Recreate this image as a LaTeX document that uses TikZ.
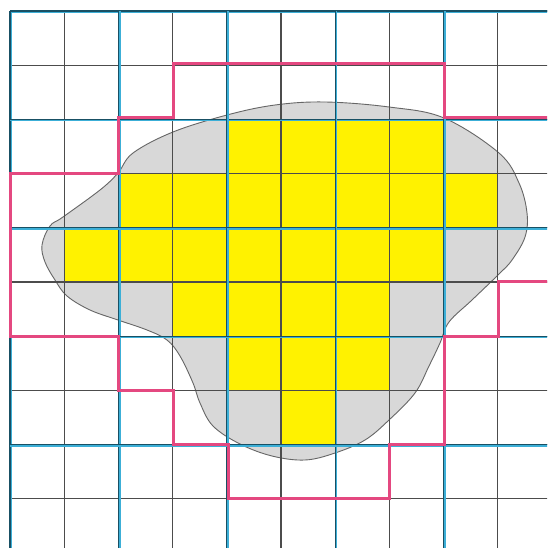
\documentclass[tikz,border=0pt]{standalone}
\definecolor{halo}{RGB}{60,175,215}
\definecolor{core}{RGB}{25,80,100}
\definecolor{pinkc}{RGB}{228,72,128}
\definecolor{blobc}{RGB}{216,216,216}
\begin{document}
\begin{tikzpicture}[x=1pt,y=-1pt,
  thingrid/.style={draw=black!70, line width=1.1pt},
  bluehalo/.style={draw=halo, line width=2.6pt},
  bluecore/.style={draw=core, line width=1.1pt},
  cellfill/.style={fill=yellow},
  blob/.style={fill=blobc, draw=black!60, line width=0.9pt},
  pinkline/.style={draw=pinkc, line width=3pt, line join=miter}]
\useasboundingbox (0,0) rectangle (547,548);
\fill[white] (0,0) rectangle (547,548);
\clip (0,0) rectangle (547,548);
% blob
\draw[blob] plot[smooth cycle, tension=0.6] coordinates {
 (42,245) (50,226) (63,217) (100,190) (118,173) (133,153) (173,132)
 (227,115) (275,105) (325,102) (389,107) (444,118) (499,153) (519,183)
 (527,213) (525,237) (512,260) (499,274) (472,300) (449,322) (440,343)
 (429,366) (415,393) (389,420) (365,440) (335,453) (305,460) (272,456)
 (240,444) (213,426) (200,403) (193,383) (180,356) (167,340) (147,330)
 (118,320) (90,310) (67,296) (55,280) (45,262)};
% yellow cells
\def\cs{54.2}
\foreach \r/\a/\b in {2/4/7, 3/2/8, 4/1/7, 5/3/6, 6/4/6, 7/5/5}{
  \foreach \c in {\a,...,\b}{
    \fill[cellfill] ({10+\c*\cs},{11+\r*\cs}) rectangle ({10+(\c+1)*\cs},{11+(\r+1)*\cs});
  }
}
% grid
\foreach \k in {0,...,10}{
  \draw[thingrid] ({10+\k*\cs},11) -- ({10+\k*\cs},560);
  \draw[thingrid] (10,{11+\k*\cs}) -- (560,{11+\k*\cs});
}
\foreach \k in {0,2,4,6,8,10}{
  \draw[bluehalo] ({10+\k*\cs+0.8},11) -- ({10+\k*\cs+0.8},560);
  \draw[bluehalo] (10,{11+\k*\cs+0.8}) -- (560,{11+\k*\cs+0.8});
  \draw[bluecore] ({10+\k*\cs},11) -- ({10+\k*\cs},560);
  \draw[bluecore] (10,{11+\k*\cs}) -- (560,{11+\k*\cs});
}
% pink boundary
\coordinate (pa) at (550,118);
\coordinate (pb) at (550,281);
\draw[pinkline] (pa) -- (444,118) -- (444,64) -- (173,64) -- (173,118)
 -- (118,118) -- (118,173) -- (10,173) -- (10,336) -- (118,336)
 -- (118,390) -- (173,390) -- (173,444) -- (228,444) -- (228,498)
 -- (389,498) -- (389,444) -- (444,444) -- (444,336) -- (498,336)
 -- (498,281) -- (pb);
\end{tikzpicture}
\end{document}
